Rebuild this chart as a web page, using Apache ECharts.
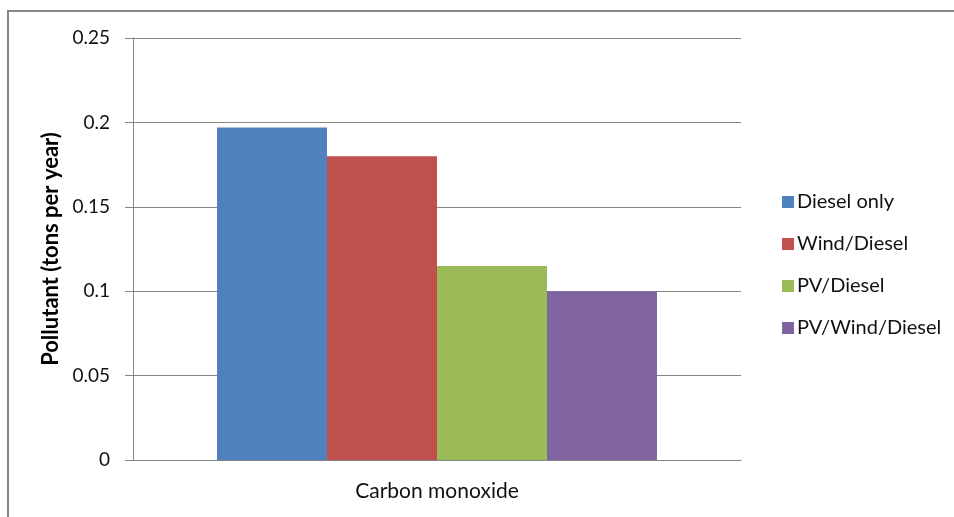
<!DOCTYPE html>
<html>
<head>
<meta charset="utf-8">
<script src="https://cdn.jsdelivr.net/npm/echarts@6/dist/echarts.min.js"></script>
<style>
  html, body { margin: 0; padding: 0; background: #fff; }
  #chart { width: 954px; height: 517px; }
</style>
</head>
<body>
<div id="chart"></div>
<script>
// Annual CO emissions by generation system
const categories = ['Carbon monoxide'];
const seriesNames = ['Diesel only', 'Wind/Diesel', 'PV/Diesel', 'PV/Wind/Diesel'];
const dieselOnly = [0.197];
const windDiesel = [0.18];
const pvDiesel = [0.115];
const pvWindDiesel = [0.1];
const seriesColors = ['#4F81BD', '#C0504D', '#9BBB59', '#8064A2'];
const yTicks = { min: 0, max: 0.25, interval: 0.05 };

const values = [dieselOnly, windDiesel, pvDiesel, pvWindDiesel];
const font = "Lato, 'Open Sans', sans-serif";

const chart = echarts.init(document.getElementById('chart'), null, { renderer: 'canvas' });
chart.setOption({
  backgroundColor: '#fff',
  animation: false,
  textStyle: { fontFamily: font },
  graphic: [{
    type: 'rect',
    shape: { x: 8, y: 11, width: 1000, height: 600 },
    style: { fill: 'none', stroke: '#868686', lineWidth: 2 },
    silent: true,
    z: -1
  }],
  grid: { left: 133, right: 213, top: 38, bottom: 57, containLabel: false },
  legend: {
    orient: 'vertical',
    left: 777,
    top: 187,
    itemWidth: 12,
    itemHeight: 12,
    itemGap: 22,
    icon: 'rect',
    data: seriesNames,
    textStyle: { fontFamily: font, fontSize: 20, color: '#111', padding: [0, 0, 0, -2] }
  },
  xAxis: {
    type: 'category',
    data: categories,
    axisLine: { lineStyle: { color: '#868686', width: 1 } },
    axisTick: { show: false },
    axisLabel: { fontFamily: font, fontSize: 21, color: '#111', margin: 21 }
  },
  yAxis: {
    type: 'value',
    min: yTicks.min,
    max: yTicks.max,
    interval: yTicks.interval,
    name: 'Pollutant (tons per year)',
    nameLocation: 'middle',
    nameGap: 64,
    nameRotate: 90,
    nameTextStyle: { fontFamily: font, fontSize: 22, fontWeight: 'bold', color: '#000' },
    axisLine: { show: true, lineStyle: { color: '#868686', width: 1 } },
    axisTick: { show: true, length: 8, lineStyle: { color: '#868686' } },
    axisLabel: {
      fontFamily: font, fontSize: 19, color: '#111', margin: 23,
      formatter: v => String(Number(v.toFixed(2)))
    },
    splitLine: { show: true, lineStyle: { color: '#868686', width: 1 } }
  },
  series: seriesNames.map((name, i) => ({
    name: name,
    type: 'bar',
    data: values[i],
    barWidth: 110,
    barGap: '0%',
    itemStyle: { color: seriesColors[i] }
  }))
});
</script>
</body>
</html>
